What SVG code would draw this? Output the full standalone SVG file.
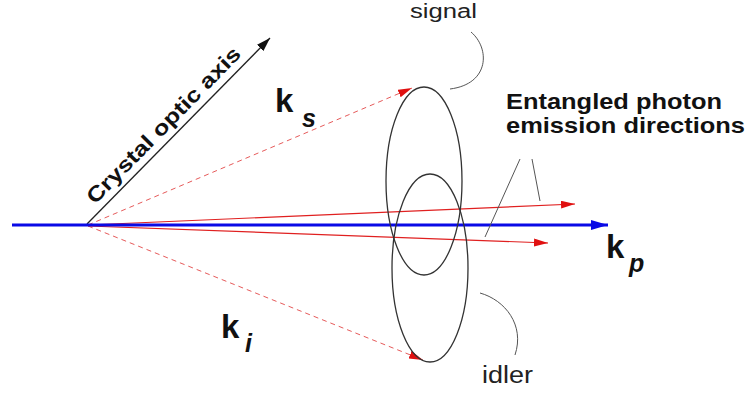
<svg xmlns="http://www.w3.org/2000/svg" width="749" height="394" viewBox="0 0 749 394">
<style>
.bg{fill:#ffffff}
.ring{fill:none;stroke:#333;stroke-width:1.3}
.lead{fill:none;stroke:#555;stroke-width:1}
.dash{fill:none;stroke:#e65a5a;stroke-width:1;stroke-dasharray:5 4}
.ray{fill:none;stroke:#e02020;stroke-width:1.2}
.pump{fill:none;stroke:#0a0ae6;stroke-width:3.2}
.axis{fill:none;stroke:#222;stroke-width:1.3}
.k{font-family:"Liberation Sans",Arial,sans-serif;font-weight:bold;font-size:33px;fill:#111}
.sub{font-family:"Liberation Sans",Arial,sans-serif;font-weight:bold;font-style:italic;font-size:25px;fill:#111}
.lbl{font-family:"Liberation Sans",Arial,sans-serif;fill:#222}
.bold{font-family:"Liberation Sans",Arial,sans-serif;font-weight:bold;fill:#111}
</style>
<defs>
<marker id="redHead" markerUnits="userSpaceOnUse" markerWidth="15" markerHeight="9" refX="14" refY="4" orient="auto">
<path d="M0,0 L14,4 L0,8 z" fill="#e01010"/>
</marker>
<marker id="blueHead" markerUnits="userSpaceOnUse" markerWidth="18" markerHeight="11" refX="17" refY="5" orient="auto">
<path d="M0,0 L17,5 L0,10 z" fill="#0a0ae6"/>
</marker>
<marker id="blackHead" markerUnits="userSpaceOnUse" markerWidth="15" markerHeight="10" refX="14" refY="4.5" orient="auto">
<path d="M0,0 L14,4.5 L0,9 z" fill="#111"/>
</marker>
</defs>
<rect class="bg" x="0" y="0" width="749" height="394"/>

<g id="connectors">
<line class="axis" x1="87" y1="224" x2="270" y2="38" marker-end="url(#blackHead)"/>
<line class="dash" x1="88" y1="225" x2="412" y2="88" marker-end="url(#redHead)"/>
<line class="dash" x1="88" y1="226" x2="423" y2="360" marker-end="url(#redHead)"/>
<line class="ray" x1="88" y1="225" x2="575" y2="204" marker-end="url(#redHead)"/>
<line class="ray" x1="88" y1="226" x2="548" y2="243" marker-end="url(#redHead)"/>
<line class="pump" x1="12" y1="225" x2="608" y2="225" marker-end="url(#blueHead)"/>
<line class="lead" x1="520" y1="159" x2="485" y2="237"/>
<line class="lead" x1="532" y1="159" x2="540" y2="201"/>
<path class="lead" d="M471,32 C490,48 490,84 450,89"/>
<path class="lead" d="M480,293 C505,300 525,325 515,355"/>
</g>

<g id="signal-cone">
<ellipse class="ring" cx="424" cy="181" rx="38" ry="94"/>
</g>
<g id="idler-cone">
<ellipse class="ring" cx="430" cy="268" rx="38" ry="94"/>
</g>

<g id="axis-label">
<text class="bold" font-size="21" transform="translate(95,205) rotate(-45.5)" textLength="210" lengthAdjust="spacingAndGlyphs">Crystal optic axis</text>
</g>
<g id="ks-label">
<text class="k" x="275" y="112">k</text>
<text class="sub" x="302" y="127">s</text>
</g>
<g id="ki-label">
<text class="k" x="221" y="338">k</text>
<text class="sub" x="245" y="352">i</text>
</g>
<g id="kp-label">
<text class="k" x="606" y="258">k</text>
<text class="sub" x="629" y="272">p</text>
</g>
<g id="signal-label">
<text class="lbl" font-size="20" x="410" y="18" textLength="67" lengthAdjust="spacingAndGlyphs">signal</text>
</g>
<g id="idler-label">
<text class="lbl" font-size="23" x="482" y="383" textLength="51" lengthAdjust="spacingAndGlyphs">idler</text>
</g>
<g id="entangled-label">
<text class="bold" font-size="22" x="506" y="109" textLength="216" lengthAdjust="spacingAndGlyphs">Entangled photon</text>
<text class="bold" font-size="22" x="506" y="133" textLength="239" lengthAdjust="spacingAndGlyphs">emission directions</text>
</g>
</svg>
